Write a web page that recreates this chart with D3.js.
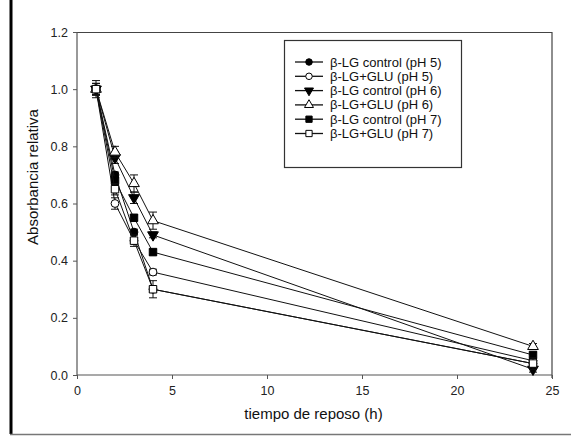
<!DOCTYPE html>
<html>
<head>
<meta charset="utf-8">
<script src="https://cdn.jsdelivr.net/npm/d3@7"></script>
<style>
  body { margin: 0; background: #fff; }
  text { font-family: "Liberation Sans", Arial, sans-serif; }
</style>
</head>
<body>
<div id="visual"></div>
<script>
// data
const hours = [1, 2, 3, 4, 24];
const seriesNames = [
    "β-LG control (pH 5)",
    "β-LG+GLU (pH 5)",
    "β-LG control (pH 6)",
    "β-LG+GLU (pH 6)",
    "β-LG control (pH 7)",
    "β-LG+GLU (pH 7)"
];
const ctrlPH5 = [1.0, 0.70, 0.50, 0.30, 0.04];
const gluPH5 = [1.0, 0.60, 0.47, 0.36, 0.05];
const ctrlPH6 = [1.0, 0.76, 0.62, 0.49, 0.02];
const gluPH6 = [1.0, 0.78, 0.67, 0.54, 0.10];
const ctrlPH7 = [1.0, 0.68, 0.55, 0.43, 0.07];
const gluPH7 = [1.0, 0.65, 0.47, 0.30, 0.04];
const errPH5c = [0.02, 0.01, 0.01, 0.01, 0.01];
const errPH5g = [0.02, 0.02, 0.01, 0.01, 0.01];
const errPH6c = [0.02, 0.02, 0.02, 0.01, 0.01];
const errPH6g = [0.02, 0.02, 0.03, 0.03, 0.01];
const errPH7c = [0.02, 0.01, 0.01, 0.01, 0.01];
const errPH7g = [0.03, 0.02, 0.02, 0.03, 0.02];
const xTicks = [0, 5, 10, 15, 20, 25];
const yTicks = [0.0, 0.2, 0.4, 0.6, 0.8, 1.0, 1.2];

const allValues = [ctrlPH5, gluPH5, ctrlPH6, gluPH6, ctrlPH7, gluPH7];
const allErrors = [errPH5c, errPH5g, errPH6c, errPH6g, errPH7c, errPH7g];
// marker style per series
const symbols = [d3.symbolCircle, d3.symbolCircle, d3.symbolTriangle, d3.symbolTriangle, d3.symbolSquare, d3.symbolSquare];
const filled = [true, false, true, false, true, false];
const flipped = [false, false, true, false, false, false];

const W = 571, H = 436;
const margin = { top: 32, right: 19, bottom: 61, left: 77 };
const width = W - margin.left - margin.right;
const height = H - margin.top - margin.bottom;

const svg = d3.select("#visual")
    .append("svg")
    .attr("width", W)
    .attr("height", H);

// page edges from the scan
svg.append("line")
    .attr("x1", 11).attr("x2", 11).attr("y1", 0).attr("y2", 434)
    .attr("stroke", "#000").attr("stroke-width", 3);
svg.append("line")
    .attr("x1", 10).attr("x2", W).attr("y1", 434.5).attr("y2", 434.5)
    .attr("stroke", "#777").attr("stroke-width", 1.5);

const g = svg.append("g")
    .attr("transform", "translate(" + margin.left + "," + margin.top + ")");

const x = d3.scaleLinear().domain([0, 25]).range([0, width]);
const y = d3.scaleLinear().domain([0, 1.2]).range([height, 0]);

// frame top / right
g.append("path")
    .attr("d", "M0,0.5H" + width + "V" + (height + 3))
    .attr("fill", "none")
    .attr("stroke", "#444")
    .attr("stroke-width", 1.2);

const xAxis = g.append("g")
    .attr("transform", "translate(0," + height + ")")
    .call(d3.axisBottom(x).tickValues(xTicks).tickSize(4).tickFormat(d3.format("d")));
const yAxis = g.append("g")
    .call(d3.axisLeft(y).tickValues(yTicks).tickSize(4).tickFormat(d3.format(".1f")));

[xAxis, yAxis].forEach(ax => {
    ax.select(".domain").attr("stroke", "#555").attr("stroke-width", 1.2);
    ax.selectAll(".tick line").attr("stroke", "#555");
    ax.selectAll(".tick text")
        .attr("fill", "#222")
        .style("font-size", "12.5px")
        .style("font-family", "Liberation Sans, Arial, sans-serif");
});
xAxis.select(".domain").attr("d", "M0,0H" + width);
yAxis.select(".domain").attr("d", "M0,0V" + height);
xAxis.selectAll(".tick text").attr("y", 11).attr("dy", "0.71em");
yAxis.selectAll(".tick text").attr("x", -9);

// axis titles
g.append("text")
    .attr("x", width / 2 - 1)
    .attr("y", height + 44)
    .attr("text-anchor", "middle")
    .attr("fill", "#111")
    .style("font-size", "15px")
    .text("tiempo de reposo (h)");
g.append("text")
    .attr("transform", "rotate(-90)")
    .attr("x", -145)
    .attr("y", -39)
    .attr("text-anchor", "middle")
    .attr("fill", "#111")
    .style("font-size", "15px")
    .text("Absorbancia relativa");

const line = d3.line()
    .x((d, i) => x(hours[i]))
    .y(d => y(d));

function markerPath(s, size) {
    return d3.symbol().type(symbols[s]).size(size)();
}
const markerSize = [48, 48, 50, 50, 56, 56];

allValues.forEach((vals, s) => {
    const sg = g.append("g");
    sg.append("path")
        .datum(vals)
        .attr("d", line)
        .attr("fill", "none")
        .attr("stroke", "#111")
        .attr("stroke-width", 1);

    // error bars
    sg.selectAll(".err")
        .data(vals)
        .enter()
        .append("path")
        .attr("d", (d, i) => {
            const cx = x(hours[i]);
            const hi = y(d + allErrors[s][i]), lo = y(d - allErrors[s][i]);
            return "M" + (cx - 4) + "," + hi + "H" + (cx + 4) +
                "M" + cx + "," + hi + "V" + lo +
                "M" + (cx - 4) + "," + lo + "H" + (cx + 4);
        })
        .attr("stroke", "#111")
        .attr("stroke-width", 1)
        .attr("fill", "none");

    sg.selectAll(".pt")
        .data(vals)
        .enter()
        .append("path")
        .attr("transform", (d, i) => "translate(" + x(hours[i]) + "," + y(d) + ")" + (flipped[s] ? " rotate(180)" : ""))
        .attr("d", markerPath(s, markerSize[s]))
        .attr("fill", filled[s] ? "#000" : "#fff")
        .attr("stroke", "#000")
        .attr("stroke-width", 1);
});

// legend
const legend = g.append("g").attr("transform", "translate(207,8)");
legend.append("rect")
    .attr("x", 0.5).attr("y", 0.5)
    .attr("width", 177).attr("height", 127)
    .attr("fill", "#fff")
    .attr("stroke", "#333")
    .attr("stroke-width", 1.2);

const rows = legend.selectAll(".row")
    .data(seriesNames)
    .enter()
    .append("g")
    .attr("transform", (d, i) => "translate(0," + (22 + i * 14.3) + ")");
rows.append("line")
    .attr("x1", 11).attr("x2", 39)
    .attr("stroke", "#111").attr("stroke-width", 1.3);
rows.append("path")
    .attr("transform", (d, i) => "translate(25,0)" + (flipped[i] ? " rotate(180)" : ""))
    .attr("d", (d, i) => markerPath(i, markerSize[i] * 0.7))
    .attr("fill", (d, i) => filled[i] ? "#000" : "#fff")
    .attr("stroke", "#000");
rows.append("text")
    .attr("x", 46)
    .attr("dy", "0.35em")
    .attr("fill", "#111")
    .style("font-size", "13px")
    .text(d => d);
</script>
</body>
</html>
